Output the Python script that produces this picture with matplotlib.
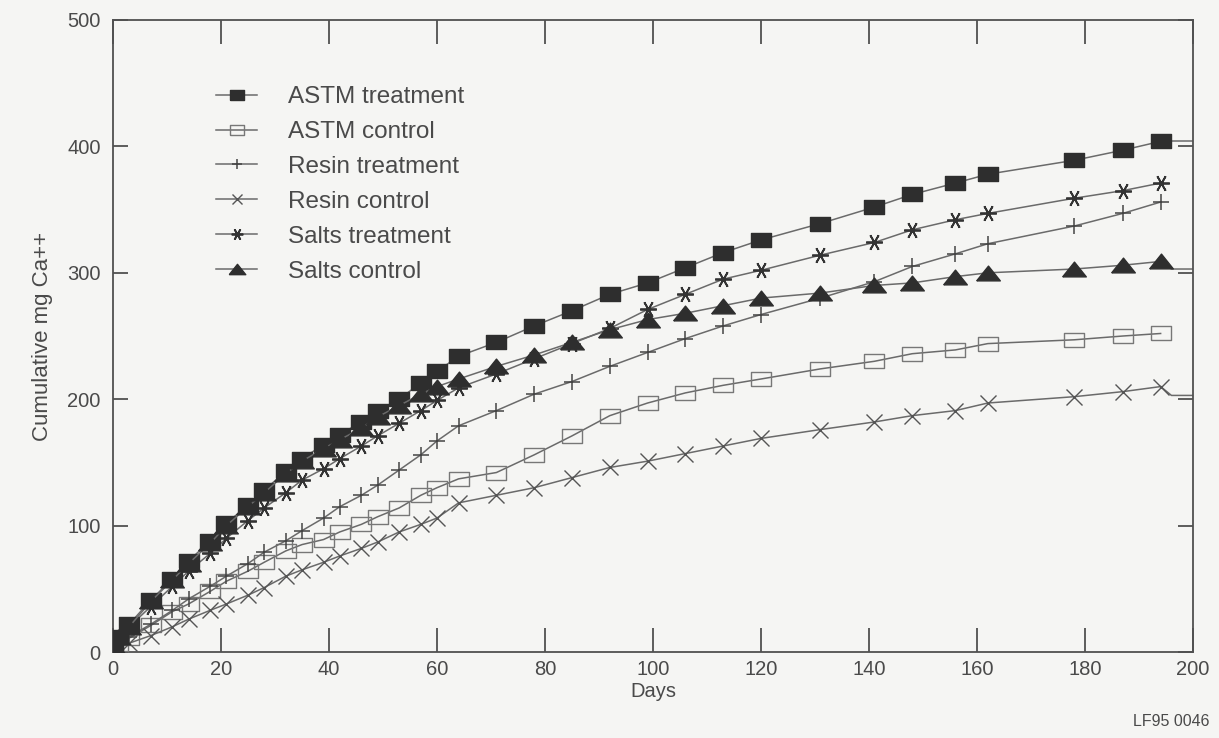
import numpy as np
import matplotlib.pyplot as plt

plt.rcParams["font.family"] = ["Liberation Sans", "DejaVu Sans"]

ink = "#4a4a4a"
line_color = "#6a6a6a"
mark_color = "#2e2e2e"
paper = "#f5f5f3"

days = [0, 1, 3, 7, 11, 14, 18, 21, 25, 28, 32, 35, 39, 42, 46, 49, 53, 57,
        60, 64, 71, 78, 85, 92, 99, 106, 113, 120, 131, 141, 148, 156, 162,
        178, 187, 194]

astm_treat = [5, 12, 22, 41, 58, 72, 88, 102, 116, 128, 143, 153, 164, 172,
              182, 191, 200, 213, 222, 234, 245, 258, 270, 283, 292, 304, 316,
              326, 339, 352, 362, 371, 378, 389, 397, 404]
astm_ctrl = [3, 6, 11, 21, 32, 38, 48, 56, 64, 71, 80, 85, 89, 95, 101, 107,
             114, 124, 130, 137, 142, 156, 171, 187, 197, 205, 211, 216, 224,
             230, 236, 239, 244, 247, 250, 252]
resin_treat = [3, 6, 12, 22, 33, 42, 52, 60, 70, 79, 88, 96, 106, 115, 124,
               132, 144, 156, 167, 179, 191, 204, 214, 226, 237, 248, 258, 267,
               280, 293, 305, 315, 323, 337, 347, 356]
resin_ctrl = [2, 4, 7, 13, 20, 26, 33, 38, 45, 51, 60, 65, 71, 76, 82, 87, 95,
              101, 106, 118, 124, 130, 138, 146, 151, 157, 163, 169, 176, 182,
              187, 191, 197, 202, 206, 210]
salts_treat = [5, 10, 20, 36, 52, 64, 78, 90, 104, 114, 126, 136, 145, 153,
               163, 171, 181, 191, 199, 209, 220, 232, 244, 256, 271, 283, 295,
               302, 314, 324, 334, 342, 347, 359, 365, 371]
salts_ctrl = [5, 12, 20, 40, 57, 70, 86, 100, 115, 126, 141, 151, 161, 168,
              177, 186, 195, 204, 210, 216, 226, 235, 245, 255, 263, 268, 274,
              280, 284, 290, 292, 297, 300, 303, 306, 309]

# short unmarked line ends running to the right border
astm_treat_tail = ([194, 200], [404, 404])
salts_ctrl_tail = ([194, 196, 200], [309, 303, 303])
resin_ctrl_tail = ([194, 196, 200], [210, 203, 203])

x_ticks = [0, 20, 40, 60, 80, 100, 120, 140, 160, 180, 200]
y_ticks = [0, 100, 200, 300, 400, 500]

rect = [(-1.45, -1), (1.45, -1), (1.45, 1), (-1.45, 1), (-1.45, -1)]
wide_tri = [(-1.6, -1), (1.6, -1), (0, 1), (-1.6, -1)]


def main():
    fig = plt.figure(figsize=(12.19, 7.38), dpi=100, facecolor=paper)
    ax = fig.add_axes([0.0927, 0.1165, 0.886, 0.8564])
    ax.set_facecolor(paper)

    common = dict(color=line_color, lw=1.1)
    ax.plot(days, astm_treat, marker=rect, ms=14, mfc=mark_color,
            mec=mark_color, label="ASTM treatment", zorder=4, **common)
    ax.plot(days, astm_ctrl, marker=rect, ms=14, mfc="none", mec="#777777",
            mew=1.0, label="ASTM control", zorder=3, **common)
    ax.plot(days, resin_treat, marker="+", ms=11, mec="#444444", mew=1.1,
            label="Resin treatment", zorder=3, **common)
    ax.plot(days, resin_ctrl, marker="x", ms=11, mec="#555555", mew=1.0,
            label="Resin control", zorder=3, **common)
    ax.plot(days, salts_treat, marker=(6, 2, 90), ms=12, mec="#333333",
            mew=1.3, label="Salts treatment", zorder=3, **common)
    ax.plot(days, salts_ctrl, marker=wide_tri, ms=17, mfc=mark_color,
            mec=mark_color, label="Salts control", zorder=4, **common)

    for tx, ty in (astm_treat_tail, salts_ctrl_tail, resin_ctrl_tail):
        ax.plot(tx, ty, **common)

    ax.set_xlim(0, 200)
    ax.set_ylim(0, 500)
    ax.set_xticks(x_ticks)
    ax.set_yticks(y_ticks)

    for s in ax.spines.values():
        s.set_color("#505050")
        s.set_linewidth(1.3)
    ax.tick_params(axis="x", direction="in", length=17, width=1.3,
                   color="#505050", labelcolor=ink, labelsize=14.5, pad=6,
                   top=True)
    ax.tick_params(axis="y", direction="in", length=11, width=1.3,
                   color="#505050", labelcolor=ink, labelsize=14.5, pad=9,
                   right=True)

    ax.set_xlabel("Days", color=ink, fontsize=14.5, labelpad=2)
    ax.set_ylabel("Cumulative mg Ca++", color=ink, fontsize=16, labelpad=10)

    leg = ax.legend(loc="upper left", bbox_to_anchor=(0.075, 0.93),
                    frameon=False, fontsize=17.5, handlelength=1.7,
                    handletextpad=1.25, labelspacing=0.53, numpoints=1,
                    markerscale=0.7)
    for t in leg.get_texts():
        t.set_color(ink)

    fig.text(0.992, 0.012, "LF95 0046", ha="right", va="bottom",
             color=ink, fontsize=11.5)

    fig.savefig("out.png", dpi=100, facecolor=paper)


if __name__ == "__main__":
    main()
